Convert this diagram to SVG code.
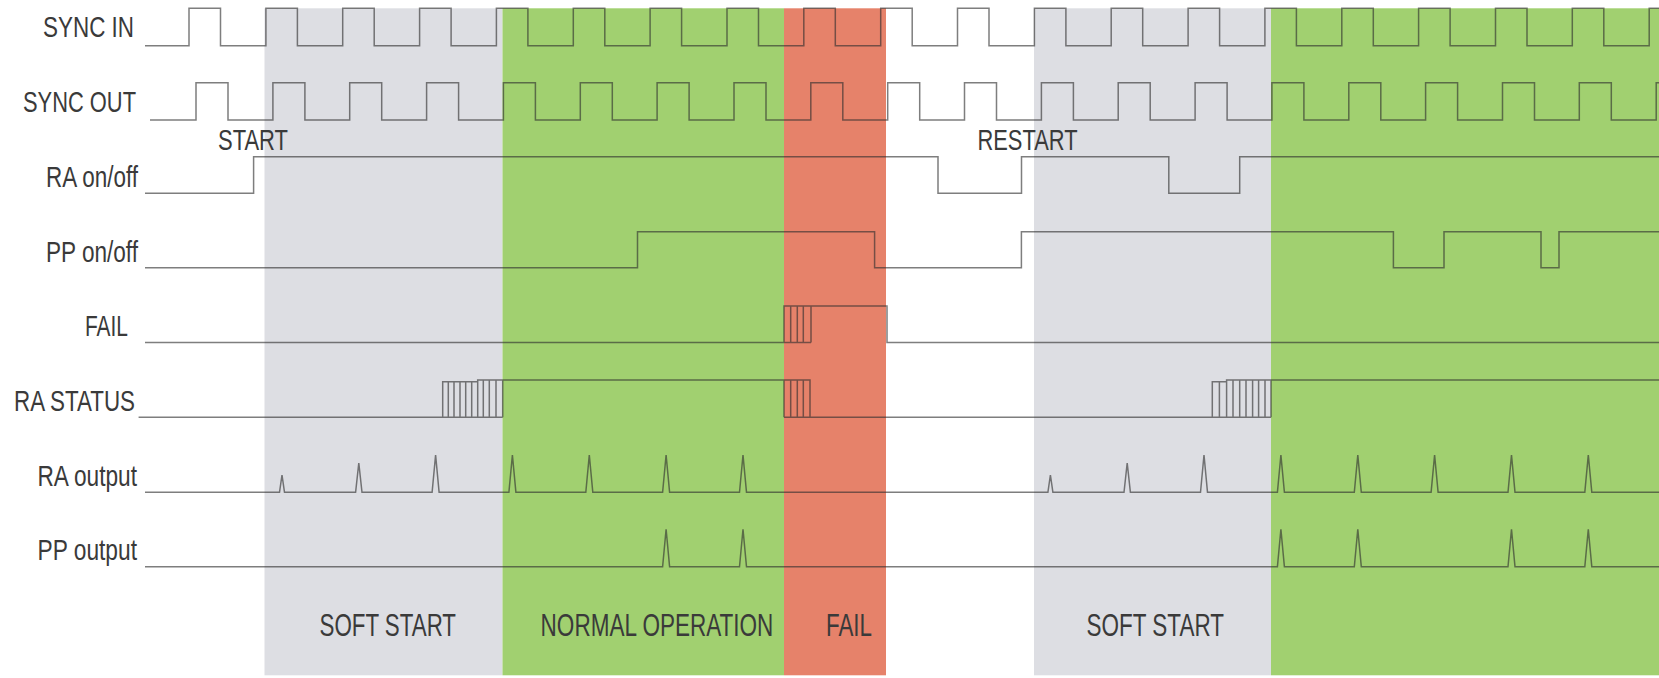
<svg xmlns="http://www.w3.org/2000/svg" width="1659" height="678" viewBox="0 0 1659 678">
<style>
.wave{fill:none;stroke:#2e2e2e;stroke-opacity:0.62;stroke-width:1.5;stroke-linejoin:miter}
.lbl{font-family:"Liberation Sans",Arial,sans-serif;font-size:29px;fill:#3a3a3a}
.phase{font-family:"Liberation Sans",Arial,sans-serif;font-size:31px;fill:#3a3a3a}
</style>
<rect width="1659" height="678" fill="#ffffff"/>
<g id="phases">
  <rect x="264.5" y="8.3" width="238" height="667" fill="#dddee3"/>
  <rect x="502.5" y="8.3" width="281.5" height="667" fill="#a1d070"/>
  <rect x="784" y="8.3" width="102" height="667" fill="#e6826a"/>
  <rect x="1034" y="8.3" width="237" height="667" fill="#dddee3"/>
  <rect x="1271" y="8.3" width="388" height="667" fill="#a1d070"/>
</g>
<g id="sync-in">
  <text class="lbl" x="43" y="37" textLength="91" lengthAdjust="spacingAndGlyphs">SYNC IN</text>
  <path class="wave" d="M145 45.7H189V8.3H220.5V45.7H265.9V8.3H297.4V45.7H342.7V8.3H374.2V45.7H419.6V8.3H451.1V45.7H496.4V8.3H527.9V45.7H573.3V8.3H604.8V45.7H650.1V8.3H681.6V45.7H727V8.3H758.5V45.7H803.8V8.3H835.3V45.7H880.7V8.3H912.2V45.7H957.5V8.3H989V45.7H1034.4V8.3H1065.9V45.7H1111.2V8.3H1142.7V45.7H1188.1V8.3H1219.6V45.7H1264.9V8.3H1296.4V45.7H1341.8V8.3H1373.3V45.7H1418.6V8.3H1450.1V45.7H1495.5V8.3H1527V45.7H1572.3V8.3H1603.8V45.7H1649.2V8.3H1659"/>
</g>
<g id="sync-out">
  <text class="lbl" x="23" y="111.7" textLength="113" lengthAdjust="spacingAndGlyphs">SYNC OUT</text>
  <path class="wave" d="M150 120H196V82.7H228V120H272.9V82.7H304.9V120H349.7V82.7H381.7V120H426.6V82.7H458.6V120H503.4V82.7H535.4V120H580.3V82.7H612.3V120H657.1V82.7H689.1V120H734V82.7H766V120H810.8V82.7H842.8V120H887.7V82.7H919.7V120H964.5V82.7H996.5V120H1041.4V82.7H1073.4V120H1118.2V82.7H1150.2V120H1195.1V82.7H1227.1V120H1271.9V82.7H1303.9V120H1348.8V82.7H1380.8V120H1425.6V82.7H1457.6V120H1502.5V82.7H1534.5V120H1579.3V82.7H1611.3V120H1656.2V82.7H1659"/>
</g>
<g id="start-label">
  <text class="lbl" x="218" y="150" textLength="70" lengthAdjust="spacingAndGlyphs">START</text>
</g>
<g id="restart-label">
  <text class="lbl" x="977.5" y="150" textLength="100" lengthAdjust="spacingAndGlyphs">RESTART</text>
</g>
<g id="ra-onoff">
  <text class="lbl" x="46" y="187" textLength="92" lengthAdjust="spacingAndGlyphs">RA on/off</text>
  <path class="wave" d="M145 193.3H253.6V156.7H938V193.3H1021.5V156.7H1168.8V193.3H1239.7V156.7H1659"/>
</g>
<g id="pp-onoff">
  <text class="lbl" x="46" y="261.7" textLength="92" lengthAdjust="spacingAndGlyphs">PP on/off</text>
  <path class="wave" d="M145 267.7H637.5V231.7H874.6V267.7H1021.4V231.7H1393.4V267.7H1444V231.7H1541V267.7H1559V231.7H1659"/>
</g>
<g id="fail">
  <text class="lbl" x="85" y="336" textLength="43" lengthAdjust="spacingAndGlyphs">FAIL</text>
  <path class="wave" d="M145 342.5H811M784 342.5V306H887V342.5H1659M790.7 306V342.5M797.3 306V342.5M803.3 306V342.5M811 306V342.5"/>
</g>
<g id="ra-status">
  <text class="lbl" x="14" y="410.7" textLength="121" lengthAdjust="spacingAndGlyphs">RA STATUS</text>
  <path class="wave" d="M138.6 417.3H502.7M442.7 417.3V381.7H477.7M477.7 417.3V380H502.7V417.3M448.3 381.7V417.3M454 381.7V417.3M460 381.7V417.3M465.7 381.7V417.3M471.7 381.7V417.3M483.3 380V417.3M489.3 380V417.3M496 380V417.3M502.7 380H810V417.3M784 380V417.3M790.7 380V417.3M797.3 380V417.3M803.3 380V417.3M784 417.3H1271M1212.3 417.3V381.7H1226.6M1219.4 381.7V417.3M1226.6 417.3V380H1271V417.3M1233 380V417.3M1239.7 380V417.3M1246 380V417.3M1252.6 380V417.3M1258.6 380V417.3M1265 380V417.3M1271 380H1659"/>
</g>
<g id="ra-output">
  <text class="lbl" x="37.5" y="486" textLength="99.5" lengthAdjust="spacingAndGlyphs">RA output</text>
  <path class="wave" d="M145 492.3H279.5L282 475L284.5 492.3H355.6L358.8 463L362 492.3H432.1L435.6 455L439.1 492.3H508.9L512.4 455L515.9 492.3H585.8L589.3 455L592.8 492.3H662.6L666.1 455L669.6 492.3H739.5L743 455L746.5 492.3H1047.9L1050.4 475L1052.9 492.3H1124L1127.2 463L1130.4 492.3H1200.5L1204 455L1207.5 492.3H1277.4L1280.9 455L1284.4 492.3H1354.3L1357.8 455L1361.3 492.3H1431.1L1434.6 455L1438.1 492.3H1508L1511.5 455L1515 492.3H1584.8L1588.3 455L1591.8 492.3H1659"/>
</g>
<g id="pp-output">
  <text class="lbl" x="37.5" y="560" textLength="99.5" lengthAdjust="spacingAndGlyphs">PP output</text>
  <path class="wave" d="M145 566.7H662.6L666.1 529.3L669.6 566.7H739.5L743 529.3L746.5 566.7H1277.4L1280.9 529.3L1284.4 566.7H1354.3L1357.8 529.3L1361.3 566.7H1508L1511.5 529.3L1515 566.7H1584.8L1588.3 529.3L1591.8 566.7H1659"/>
</g>
<g id="phase-labels">
  <text class="phase" transform="translate(319.5 636) scale(0.72 1)" x="0" y="0" textLength="189.6" lengthAdjust="spacingAndGlyphs">SOFT START</text>
  <text class="phase" transform="translate(540.6 636) scale(0.72 1)" x="0" y="0" textLength="323.3" lengthAdjust="spacingAndGlyphs">NORMAL OPERATION</text>
  <text class="phase" transform="translate(826 636) scale(0.72 1)" x="0" y="0" textLength="63.9" lengthAdjust="spacingAndGlyphs">FAIL</text>
  <text class="phase" transform="translate(1086.6 636) scale(0.72 1)" x="0" y="0" textLength="190.8" lengthAdjust="spacingAndGlyphs">SOFT START</text>
</g>
</svg>
